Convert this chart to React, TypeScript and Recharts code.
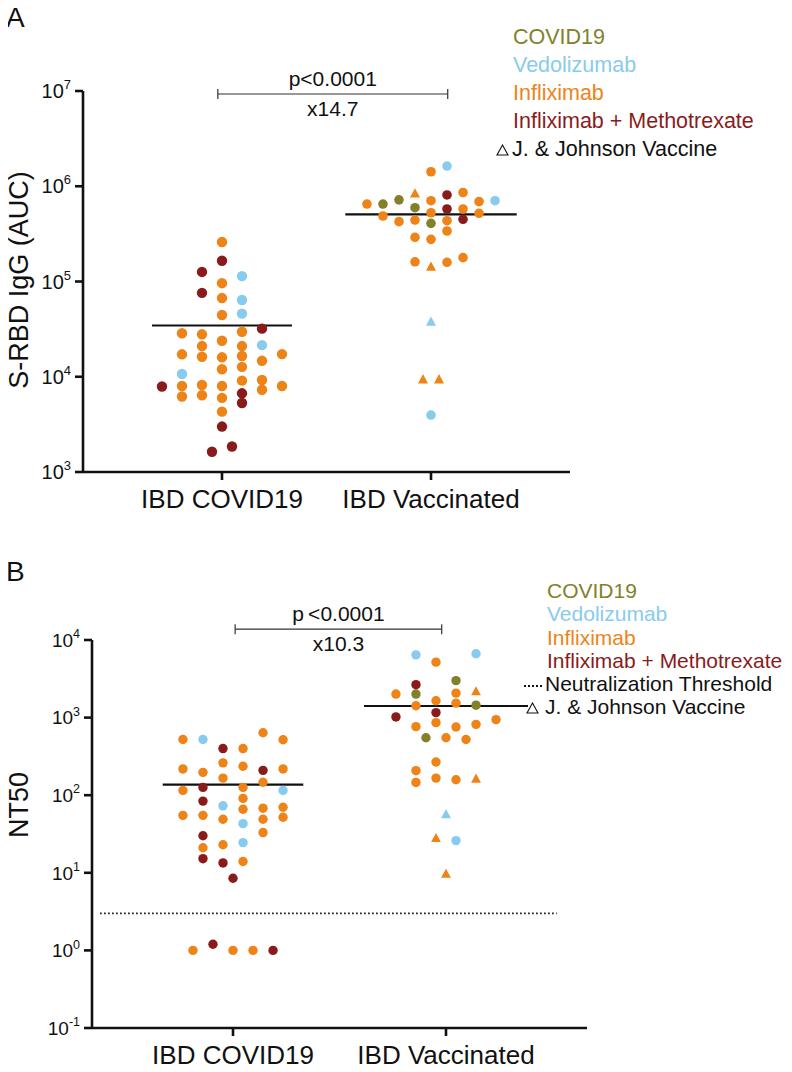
import React from 'react';
import { ScatterChart, Scatter, XAxis, YAxis, ReferenceLine, Legend } from 'recharts';

// each point: [jitter slot, value, treatment code, J&J vaccine]
type Pt = [number, number, string, boolean?];

const groupNames = ['IBD COVID19', 'IBD Vaccinated'];
const treatmentCodes = ['C', 'V', 'I', 'M'];
const treatmentNames = ['COVID19', 'Vedolizumab', 'Infliximab', 'Infliximab + Methotrexate'];
const treatmentColors = ['#82812a', '#88cbee', '#ee8318', '#8a1b1b'];

// panel A: S-RBD IgG (AUC)
const aucCovid: Pt[] = [
  [0, 2.6e5, 'I'], [0, 1.65e5, 'M'], [-1, 1.26e5, 'M'], [1, 1.14e5, 'V'],
  [0, 9.6e4, 'I'], [-1, 7.6e4, 'M'], [0, 6.7e4, 'I'], [1, 6.4e4, 'V'],
  [1, 4.6e4, 'V'], [0, 4.45e4, 'I'], [2, 3.2e4, 'M'], [-2, 2.86e4, 'I'],
  [-1, 2.79e4, 'I'], [1, 2.97e4, 'I'], [0, 2.39e4, 'I'], [-1, 2.1e4, 'I'],
  [1, 2.1e4, 'I'], [2, 2.15e4, 'V'], [-2, 1.72e4, 'I'], [-1, 1.62e4, 'I'],
  [0, 1.6e4, 'I'], [1, 1.65e4, 'I'], [3, 1.73e4, 'I'], [2, 1.47e4, 'I'],
  [1, 1.27e4, 'I'], [0, 1.2e4, 'I'], [-2, 1.07e4, 'V'], [-3, 7.9e3, 'M'],
  [-2, 8.0e3, 'I'], [-1, 8.2e3, 'I'], [0, 8.0e3, 'I'], [1, 9.1e3, 'I'],
  [2, 9.25e3, 'I'], [3, 8.0e3, 'I'], [2, 7.3e3, 'I'], [-2, 6.2e3, 'I'],
  [-1, 6.4e3, 'I'], [0, 6.0e3, 'I'], [1, 6.7e3, 'M'], [1, 5.3e3, 'M'],
  [0, 4.3e3, 'I'], [0, 3.0e3, 'M'], [0.5, 1.85e3, 'M'], [-0.5, 1.63e3, 'M'],
];

const aucVacc: Pt[] = [
  [1, 1.63e6, 'V'], [0, 1.42e6, 'I'], [-1, 8.4e5, 'I', true], [1, 8.1e5, 'M'],
  [2, 8.6e5, 'I'], [-2, 7.2e5, 'C'], [-4, 6.5e5, 'I'], [-3, 6.5e5, 'C'],
  [0, 7.05e5, 'I'], [3, 6.9e5, 'I'], [4, 7.05e5, 'V'], [-1, 5.95e5, 'C'],
  [1, 5.77e5, 'M'], [2, 5.77e5, 'I'], [0, 5.27e5, 'I'], [-3, 4.87e5, 'I'],
  [3, 5.2e5, 'I'], [-2, 4.25e5, 'I'], [-1, 4.42e5, 'I'], [0, 4.08e5, 'C'],
  [1, 4.35e5, 'I'], [2, 4.5e5, 'M'], [1, 3.39e5, 'I'], [-1, 2.91e5, 'I'],
  [0, 2.77e5, 'I'], [-1, 1.61e5, 'I'], [1, 1.59e5, 'I'], [2, 1.78e5, 'I'],
  [0, 1.43e5, 'I', true], [0, 3.78e4, 'V', true], [-0.5, 9.4e3, 'I', true],
  [0.5, 9.4e3, 'I', true], [0, 3.96e3, 'V'],
];

// panel B: NT50
const nt50Covid: Pt[] = [
  [-2.5, 522, 'I'], [-1.5, 522, 'V'], [-0.5, 399, 'M'], [0.5, 399, 'I'],
  [1.5, 638, 'I'], [2.5, 518, 'I'], [-2.5, 218, 'I'], [-1.5, 197, 'I'],
  [-0.5, 261, 'I'], [0.5, 236, 'I'], [1.5, 209, 'M'], [2.5, 218, 'I'],
  [-0.5, 166, 'I'], [1.5, 147, 'I'], [-2.5, 115, 'I'], [-1.5, 126, 'M'],
  [0.5, 126, 'I'], [2.5, 115, 'V'], [-1.5, 84, 'M'], [0.5, 91, 'I'],
  [-0.5, 73, 'V'], [0.5, 66, 'I'], [1.5, 68, 'I'], [2.5, 70, 'I'],
  [-2.5, 55, 'I'], [-1.5, 55, 'I'], [-0.5, 49, 'I'], [1.5, 49, 'I'],
  [2.5, 52, 'I'], [0.5, 43, 'V'], [1.5, 33, 'I'], [-1.5, 30, 'M'],
  [0.5, 24.5, 'V'], [-1.5, 21, 'I'], [-0.5, 23, 'I'], [-1.5, 15.2, 'M'],
  [-0.5, 13.4, 'M'], [0.5, 14, 'I'], [0, 8.5, 'M'], [-2, 1.0, 'I'],
  [-1, 1.2, 'M'], [0, 1.0, 'I'], [1, 1.0, 'I'], [2, 1.0, 'M'],
];

const nt50Vacc: Pt[] = [
  [-1.5, 6440, 'V'], [1.5, 6640, 'V'], [-0.5, 5180, 'I'], [0.5, 3000, 'C'],
  [-1.5, 2660, 'M'], [-2.5, 2010, 'I'], [-1.5, 2010, 'C'], [0.5, 2070, 'I'],
  [1.5, 2180, 'I', true], [-1.5, 1420, 'I'], [-0.5, 1650, 'I'], [0.5, 1535, 'I'],
  [1.5, 1445, 'C'], [-2.5, 1020, 'M'], [-0.5, 1160, 'M'], [-1.5, 764, 'I'],
  [-0.5, 861, 'I'], [0.5, 757, 'I'], [1.5, 818, 'I'], [2.5, 942, 'I'],
  [-1, 550, 'C'], [0, 550, 'I'], [1, 522, 'I'], [-0.5, 268, 'I'],
  [-1.5, 207, 'I'], [-1.5, 146, 'I'], [-0.5, 166, 'I'], [0.5, 158, 'I'],
  [1.5, 163, 'I', true], [0, 57, 'V', true], [-0.5, 28, 'I', true],
  [0.5, 26, 'V'], [0, 9.7, 'I', true],
];

const aucTicks = [1e3, 1e4, 1e5, 1e6, 1e7];
const nt50Ticks = [0.1, 1, 10, 100, 1000, 10000];
const aucMedians = [3.45e4, 5.07e5];
const nt50Medians = [137, 1411];
const aucStats = ['p<0.0001', 'x14.7'];
const nt50Stats = ['p\u2009<0.0001', 'x10.3'];
const nt50Threshold = 3;

const FONT = "'Liberation Sans', Arial, Helvetica, sans-serif";
const INK = '#111';

function seriesOf(points: Pt[], group: number, slot: number) {
  const out: { key: string; color: string; tri: boolean; data: { x: number; y: number }[] }[] = [];
  treatmentCodes.forEach((code, i) => {
    [false, true].forEach((tri) => {
      const data = points
        .filter((p) => p[2] === code && !!p[3] === tri)
        .map((p) => ({ x: group + p[0] * slot, y: p[1] }));
      if (data.length) out.push({ key: `${group}-${code}-${tri}`, color: treatmentColors[i], tri, data });
    });
  });
  return out;
}

const markShape = (color: string, tri: boolean, r: number) => (p: any) => {
  const { cx, cy } = p;
  if (cx == null || cy == null) return <g />;
  if (tri) {
    return <path d={`M${cx},${cy - r * 1.1}L${cx + r * 1.05},${cy + r * 0.85}L${cx - r * 1.05},${cy + r * 0.85}Z`} fill={color} />;
  }
  return <circle cx={cx} cy={cy} r={r} fill={color} />;
};

const PowTick = ({ x, y, payload, size, sup }: any) => {
  const exp = Math.round(Math.log10(payload.value));
  return (
    <text x={x - 2} y={y + size * 0.36} textAnchor="end" fontSize={size} fill={INK} fontFamily={FONT}>
      10<tspan dy={-size * 0.45} fontSize={sup}>{exp}</tspan>
    </text>
  );
};

const CatTick = ({ x, y, payload, dy }: any) => (
  <text x={x} y={y + dy} textAnchor="middle" fontSize={26} fill={INK} fontFamily={FONT}>
    {groupNames[payload.value - 1]}
  </text>
);

const bracketShape = (stats: string[]) => (p: any) => {
  const { x1, y1, x2 } = p;
  const mid = (x1 + x2) / 2;
  return (
    <g>
      <line x1={x1} y1={y1} x2={x2} y2={y1} stroke="#333" strokeWidth={1.2} />
      <line x1={x1} y1={y1 - 5} x2={x1} y2={y1 + 5} stroke="#333" strokeWidth={1.2} />
      <line x1={x2} y1={y1 - 5} x2={x2} y2={y1 + 5} stroke="#333" strokeWidth={1.2} />
      <text x={mid} y={y1 - 8} textAnchor="middle" fontSize={21} fill={INK} fontFamily={FONT}>{stats[0]}</text>
      <text x={mid} y={y1 + 22} textAnchor="middle" fontSize={21} fill={INK} fontFamily={FONT}>{stats[1]}</text>
    </g>
  );
};

const LegendBlock = ({ indent, lineHeight, fontSize, withThreshold, triGap }: any) => (
  <div style={{ fontFamily: FONT, fontSize, lineHeight: `${lineHeight}px`, whiteSpace: 'nowrap', textAlign: 'left' }}>
    {treatmentNames.map((n, i) => (
      <div key={n} style={{ color: treatmentColors[i], paddingLeft: indent }}>{n}</div>
    ))}
    {withThreshold && (
      <div style={{ color: INK }}>
        <span style={{ display: 'inline-block', width: 18, borderTop: `2px dotted ${INK}`, verticalAlign: 'middle', marginRight: 3 }} />
        Neutralization Threshold
      </div>
    )}
    <div style={{ color: INK }}>
      <svg width={13} height={12} style={{ marginLeft: triGap[0], marginRight: triGap[1] }}>
        <path d="M6.5,1 L12,11 L1,11Z" fill="none" stroke={INK} strokeWidth={1.1} />
      </svg>
      J. &amp; Johnson Vaccine
    </div>
  </div>
);

const axisStroke = { stroke: INK, strokeWidth: 2.6 };

function Panel(props: any) {
  const { top, height, margin, xDomain, yDomain, yTicks, tickFont, supFont, yTitle, yTitleX, yTitleY, groups,
    medians, halfWidths, stats, bracket, legend, threshold, letter, letterTop, catDy } = props;
  const series = groups.flatMap((g: any, i: number) => seriesOf(g.points, i + 1, g.slot).map((s) => ({ ...s, r: g.r })));
  return (
    <div style={{ position: 'absolute', left: 0, top, width: 792, height }}>
      <div style={{ position: 'absolute', left: 6, top: letterTop, fontFamily: FONT, fontSize: 28, lineHeight: '28px', color: INK }}>
        {letter}
      </div>
      <svg width={40} height={height} style={{ position: 'absolute', left: 0, top: 0 }}>
        <text transform={`translate(${yTitleX}, ${yTitleY}) rotate(-90)`} textAnchor="middle"
          fontSize={27} fill={INK} fontFamily={FONT}>{yTitle}</text>
      </svg>
      <ScatterChart width={792} height={height} margin={margin} style={{ position: 'absolute', left: 0, top: 0 }}>
        <XAxis type="number" dataKey="x" domain={xDomain} ticks={[1, 2]} height={40} allowDataOverflow
          axisLine={axisStroke} tickLine={axisStroke} tickSize={8} tick={<CatTick dy={catDy} />} />
        <YAxis type="number" dataKey="y" scale="log" domain={yDomain} ticks={yTicks} width={60} allowDataOverflow
          axisLine={axisStroke} tickLine={axisStroke} tickSize={8} tick={<PowTick size={tickFont} sup={supFont} />} />
        {series.map((s: any) => (
          <Scatter key={s.key} data={s.data} fill={s.color} shape={markShape(s.color, s.tri, s.r)} isAnimationActive={false} />
        ))}
        {medians.map((m: number, i: number) => (
          <ReferenceLine key={`med${i}`} segment={[{ x: i + 1 - halfWidths[i], y: m }, { x: i + 1 + halfWidths[i], y: m }]}
            stroke={INK} strokeWidth={2.2} ifOverflow="visible" />
        ))}
        {threshold && (
          <ReferenceLine segment={[{ x: threshold.x1, y: threshold.value }, { x: threshold.x2, y: threshold.value }]}
            stroke={INK} strokeWidth={1.6} strokeDasharray="1.6 2.4" ifOverflow="visible" />
        )}
        <ReferenceLine segment={[{ x: bracket.x1, y: bracket.y }, { x: bracket.x2, y: bracket.y }]}
          ifOverflow="visible" shape={bracketShape(stats)} />
        <Legend layout="vertical" align="center" verticalAlign="middle"
          wrapperStyle={{ left: legend.left, top: legend.top, width: 300, height: 'auto' }}
          content={() => <LegendBlock indent={legend.indent} lineHeight={legend.lineHeight} fontSize={legend.fontSize}
            withThreshold={!!threshold} triGap={legend.triGap} />} />
      </ScatterChart>
    </div>
  );
}

export default function App() {
  return (
    <div style={{ position: 'relative', width: 792, height: 1072, margin: -8, background: '#fff', overflow: 'hidden' }}>
      <Panel
        top={0} height={540}
        margin={{ top: 91, right: 222, bottom: 28, left: 23 }}
        xDomain={[0.335, 2.665]} yDomain={[1e3, 1e7]} yTicks={aucTicks}
        tickFont={20} supFont={13}
        yTitle="S-RBD IgG (AUC)" yTitleX={28} yTitleY={280}
        groups={[{ points: aucCovid, slot: 0.0957, r: 5.2 }, { points: aucVacc, slot: 0.0766, r: 4.8 }]}
        medians={aucMedians} halfWidths={[0.335, 0.41]}
        stats={aucStats} bracket={{ x1: 0.98, x2: 2.08, y: 9.3e6 }}
        legend={{ left: 496, top: 23, indent: 17, lineHeight: 28, fontSize: 21.5, triGap: [0, 3] }}
        letter="A" letterTop={4} catDy={26}
      />
      <Panel
        top={540} height={532}
        margin={{ top: 100, right: 205, bottom: 4, left: 32 }}
        xDomain={[0.338, 2.662]} yDomain={[0.1, 1e4]} yTicks={nt50Ticks}
        tickFont={19} supFont={12.5}
        yTitle="NT50" yTitleX={28} yTitleY={265}
        groups={[{ points: nt50Covid, slot: 0.094, r: 4.7 }, { points: nt50Vacc, slot: 0.094, r: 4.7 }]}
        medians={nt50Medians} halfWidths={[0.33, 0.385]}
        stats={nt50Stats} bracket={{ x1: 1.01, x2: 1.98, y: 1.38e4 }}
        threshold={{ value: nt50Threshold, x1: 0.376, x2: 2.52 }}
        legend={{ left: 524, top: 39, indent: 23, lineHeight: 23.3, fontSize: 21, triGap: [2, 6] }}
        letter="B" letterTop={18} catDy={26}
      />
    </div>
  );
}
